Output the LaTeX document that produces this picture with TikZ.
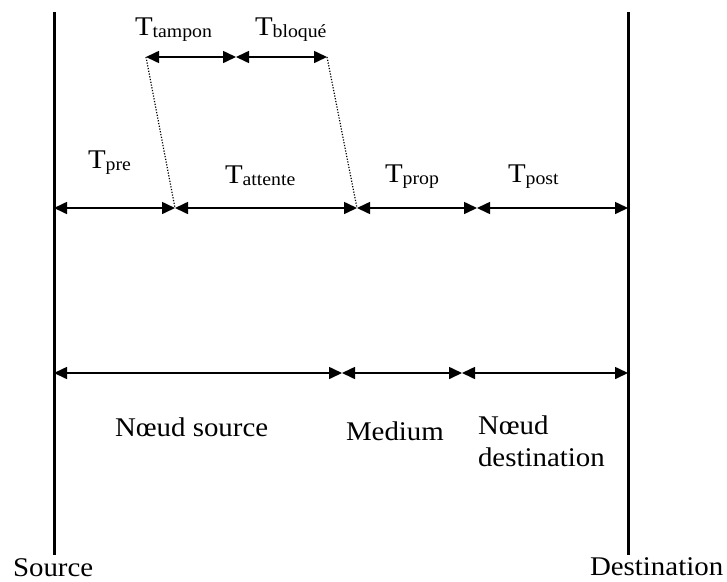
\documentclass[tikz,border=0pt]{standalone}
\usepackage{fontspec}
\setmainfont{Liberation Serif}[FakeStretch=1.07]
\usetikzlibrary{arrows.meta}
\newcommand{\Tsub}[1]{T\raisebox{-2pt}{\fontsize{18.5}{20}\selectfont #1}}
\tikzset{
  lbl/.style={anchor=base west, inner sep=0pt, outer sep=0pt, font=\fontsize{27}{32}\selectfont},
  dim/.style={line width=1.6pt, {Triangle[length=13pt,width=12pt]}-{Triangle[length=13pt,width=12pt]}},
  axisline/.style={line width=3pt},
  guide/.style={line width=1.2pt, dash pattern=on 1.2pt off 1.6pt}
}
\begin{document}
\begin{tikzpicture}[x=1pt,y=-1pt]
\useasboundingbox (0,0) rectangle (727,581);
% vertical lines
\coordinate (s0) at (54,12);
\coordinate (s1) at (54,555);
\coordinate (d0) at (628,12);
\coordinate (d1) at (628,555);
\draw[axisline] (s0) -- (s1);
\draw[axisline] (d0) -- (d1);
% row top
\coordinate (t0) at (146,57);
\coordinate (t1) at (236,57);
\coordinate (t2) at (327,57);
% row 1
\coordinate (a0) at (54,208);
\coordinate (a1) at (175,208);
\coordinate (a2) at (357,208);
\coordinate (a3) at (477,208);
\coordinate (a4) at (628,208);
% row 2
\coordinate (b0) at (54,373);
\coordinate (b1) at (342,373);
\coordinate (b2) at (462,373);
\coordinate (b3) at (628,373);
% arrows
\draw[dim] (t0) -- (t1);
\draw[dim] (t1) -- (t2);
\draw[dim] (a0) -- (a1);
\draw[dim] (a1) -- (a2);
\draw[dim] (a2) -- (a3);
\draw[dim] (a3) -- (a4);
\draw[dim] (b0) -- (b1);
\draw[dim] (b1) -- (b2);
\draw[dim] (b2) -- (b3);
% dotted guides
\draw[guide] (t0) -- (a1);
\draw[guide] (t2) -- (a2);
% labels
\node[lbl] (ltampon) at (135,35) {\Tsub{tampon}};
\node[lbl] (lbloque) at (255,35) {\Tsub{bloqué}};
\node[lbl] (lpre) at (88,168) {\Tsub{pre}};
\node[lbl] (latt) at (225,183) {\Tsub{attente}};
\node[lbl] (lprop) at (385,182) {\Tsub{prop}};
\node[lbl] (lpost) at (508,182) {\Tsub{post}};
\node[lbl] (lns) at (115,436) {Nœud source};
\node[lbl] (lmed) at (346,440) {Medium};
\node[lbl, anchor=north west, align=left] (lnd) at (478,416) {Nœud\\destination};
\node[lbl] (lsrc) at (13,576) {Source};
\node[lbl] (ldst) at (590,575) {Destination};
\end{tikzpicture}
\end{document}
